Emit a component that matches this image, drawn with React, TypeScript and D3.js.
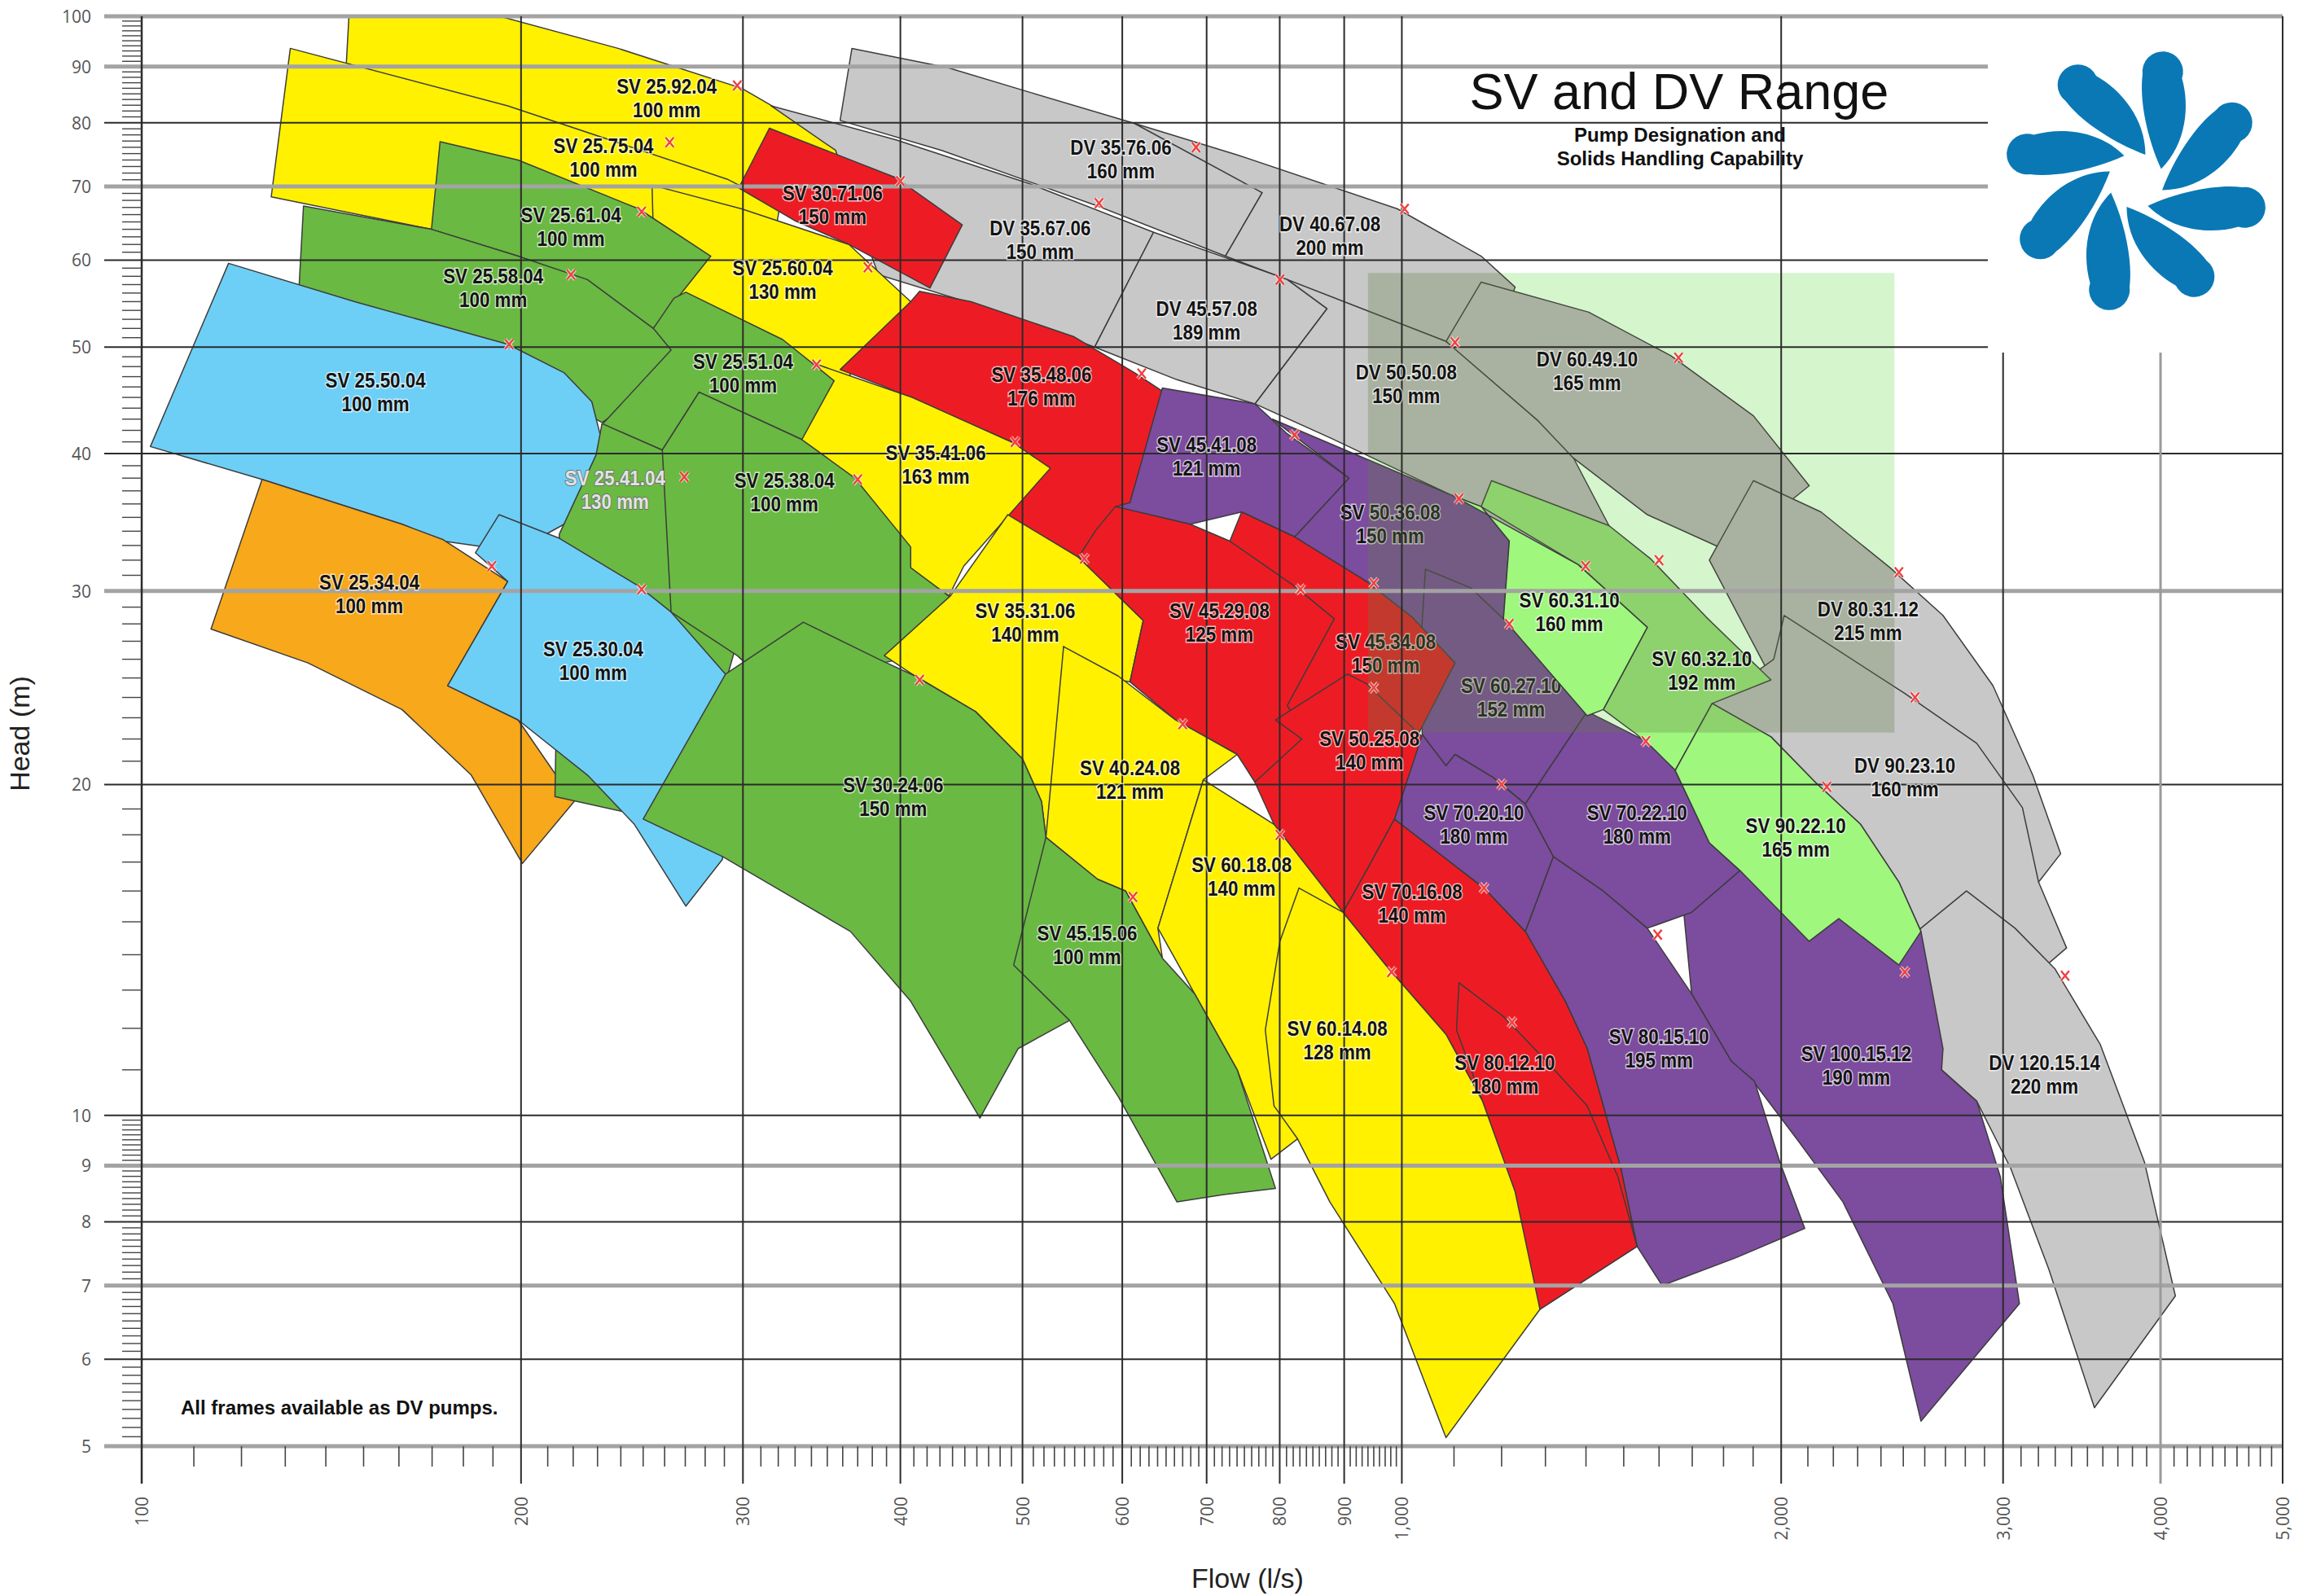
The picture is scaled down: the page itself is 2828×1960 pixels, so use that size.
import React from "react";
import * as d3 from "d3";

const W = 2828;
const H = 1960;
const X_LEFT = 174;
const X_RIGHT = 2803;
const Y_TOP = 20;
const Y_BOTTOM = 1776;

// ---- pump tiles (drawing order: back to front) ----
const pumpNames = [
  "SV 25.92.04", "DV 35.76.06", "DV 40.67.08", "DV 35.67.06", "SV 25.75.04", "SV 30.71.06",
  "DV 60.49.10", "DV 50.50.08", "DV 45.57.08", "DV 80.31.12", "DV 90.23.10", "DV 120.15.14",
  "SV 25.60.04", "SV 25.61.04", "SV 25.58.04", "SV 25.50.04", "SV 35.48.06", "SV 35.41.06",
  "SV 25.51.04", "SV 25.34.04", "SV 25.41.04", "SV 25.30.04", "SV 25.38.04", "SV 45.41.08",
  "SV 50.36.08", "SV 60.27.10", "SV 60.32.10", "SV 60.31.10", "SV 35.31.06", "SV 30.24.06",
  "SV 45.34.08", "SV 45.29.08", "SV 50.25.08", "SV 40.24.08", "SV 60.18.08", "SV 45.15.06",
  "SV 100.15.12", "SV 80.15.10", "SV 70.16.08", "SV 80.12.10", "SV 70.20.10", "SV 70.22.10",
  "SV 90.22.10", "SV 60.14.08",
];

const solidsSizes = [
  "100 mm", "160 mm", "200 mm", "150 mm", "100 mm", "150 mm",
  "165 mm", "150 mm", "189 mm", "215 mm", "160 mm", "220 mm",
  "130 mm", "100 mm", "100 mm", "100 mm", "176 mm", "163 mm",
  "100 mm", "100 mm", "130 mm", "100 mm", "100 mm", "121 mm",
  "150 mm", "152 mm", "192 mm", "160 mm", "140 mm", "150 mm",
  "150 mm", "125 mm", "140 mm", "121 mm", "140 mm", "100 mm",
  "190 mm", "195 mm", "140 mm", "180 mm", "180 mm", "180 mm",
  "165 mm", "128 mm",
];

const pumpFamilies = [
  "Y", "Gr", "Gr", "Gr", "Y", "R",
  "Gr", "Gr", "Gr", "Gr", "Gr", "Gr",
  "Y", "G", "G", "B", "R", "Y",
  "G", "O", "G", "B", "G", "P",
  "P", "P", "LG", "LG", "Y", "G",
  "R", "R", "R", "Y", "Y", "G",
  "P", "P", "R", "R", "P", "P",
  "LG", "Y",
];

// outlines as [flow l/s, head m]
const pumpOutlines: [number, number][][] = [
  [[146.5,106.7],[190.5,100.3],[238.8,93.5],[299.3,86.0],[364.1,75.5],[387.3,70.4],[357.3,63.2],[291.4,70.4],[195.2,82.1],[145.3,90.1]],
  [[366.1,93.5],[436,89.8],[508.1,85.2],[613.4,79.9],[679.3,76.0],[774.8,69.1],[724.4,60.5],[573.5,67.2],[431.4,75.5],[358.3,80.4]],
  [[613.4,79.9],[740.2,74.8],[992,66.8],[1156,60.5],[1230,56.7],[1165,48.6],[1084,50.6],[791.7,58.2],[724.4,60.5],[774.8,69.1]],
  [[315.8,82.9],[396.8,77.2],[506.8,70.4],[635.3,63.6],[570.4,50.0],[480.3,53.8],[384.2,58.2],[367.1,67.2],[355.4,75.5]],
  [[131.2,93.5],[195.2,82.9],[291.4,71.1],[320.9,67.2],[312.4,55.9],[245.4,55.9],[169.8,64.0],[126.7,68.5]],
  [[314.9,79.1],[396.8,71.3],[447.9,64.6],[422.2,56.6],[364.1,62.0],[329.6,65.2],[297.7,69.8]],
  [[1156,57.3],[1407,53.8],[1635,49.1],[1901,43.3],[2105,37.4],[1816,32.6],[1566,35.2],[1358,39.9],[1281,42.9],[1084,50.6]],
  [[811.1,57.6],[1084,50.6],[1281,42.9],[1369,39.6],[1460,34.4],[1263,31.6],[1217,33.3],[1093,36.7],[879.2,41.3],[764.5,44.4],[872.1,54.2]],
  [[635.3,63.6],[791.7,58.2],[811.1,57.6],[872.1,54.2],[764.5,44.4],[663.1,46.7],[570.4,50.0]],
  [[1901,37.8],[2151,35.4],[2440,31.5],[2688,28.5],[2945,24.6],[3167,20.4],[3333,17.3],[3201,16.3],[2541,20.8],[1968,24.9],[1754,32.0]],
  [[2011,28.5],[2507,24.2],[2859,21.8],[3108,19.05],[3201,16.3],[3369,14.2],[2829,11.96],[2582,14.7],[2480,16.3],[2312,18.4],[2128,20.1],[1963,22.1],[1763,23.7],[1973,26.0]],
  [[2806,16.0],[3066,14.8],[3297,13.6],[3583,11.6],[3884,9.07],[4110,6.85],[3545,5.42],[3262,7.24],[3042,8.95],[2859,10.3],[2681,11.0],[2600,11.5],[2400,13.7],[2582,14.8]],
  [[254.1,70.2],[299.3,66.8],[364.1,62.0],[407.6,55.0],[362.2,46.7],[322.6,49.7],[273.2,53.3],[255.5,55.0]],
  [[172.5,76.9],[198.9,74.0],[248,66.8],[282.9,60.5],[254.7,52.0],[225.8,57.3],[198.9,60.5],[169.8,64.0]],
  [[134.4,67.2],[169.8,64.0],[198.9,60.5],[225.8,57.6],[254.7,52.0],[271.8,55.9],[280.6,49.4],[231.9,42.7],[173,51.3],[133.3,56.6]],
  [[117.2,59.6],[147.6,55.0],[195.2,50.3],[216.3,47.4],[227.6,44.6],[231.9,41.0],[229.4,37.4],[223.4,35.2],[197.8,32.6],[173.5,33.3],[160.9,34.5],[124.6,37.9],[101.6,40.6]],
  [[414.3,56.2],[455.2,55.0],[549.4,51.1],[613.4,47.4],[645.6,45.6],[608.5,36.1],[572,30.6],[506.8,31.1],[461.3,35.7],[492,40.9],[387.3,46.1],[358.3,47.7],[407.6,55.0]],
  [[336.8,48.6],[408.7,45.0],[492,40.9],[526.1,38.8],[449.1,31.6],[437.2,29.7],[408.7,31.3],[347.8,37.4],[325.4,41.0]],
  [[270.3,56.1],[322.6,50.8],[354.4,46.6],[334.1,41.2],[276.9,45.5],[258.9,40.3],[231.9,42.5],[263.1,49.7],[254.7,52.0],[264.5,55.4]],
  [[124.6,37.9],[160.9,34.5],[173.5,33.4],[195.2,30.6],[174.9,24.6],[198.9,22.9],[220.4,19.3],[200.5,16.95],[182.6,20.4],[160.9,23.4],[135.5,25.8],[113.5,27.7]],
  [[231.9,42.6],[258.9,40.3],[273.2,41.0],[296.1,26.7],[273.2,19.3],[240.8,18.9],[212.8,19.5],[214.5,33.8],[229.4,39.9]],
  [[192.1,35.2],[214.5,33.5],[248,30.3],[263.1,28.7],[290.6,25.2],[289,17.1],[270.3,15.5],[246,18.4],[225.8,20.4],[198.9,22.9],[174.9,24.6],[195.2,30.6],[184,32.5]],
  [[276.9,45.5],[334.1,41.2],[368.1,38.0],[407.6,32.9],[407.6,31.5],[438.4,29.6],[393.7,25.9],[314.9,24.6],[296.9,26.2],[263.1,28.7],[258.9,40.3]],
  [[645.6,45.9],[764.5,44.4],[811.1,41.7],[908,38.0],[826.5,33.8],[822,33.6],[746.2,35.4],[679.3,34.5],[592.4,35.8],[608.5,36.1]],
  [[789.5,43.0],[1093,36.7],[1156,35.8],[1217,33.3],[1204,28.3],[1035,27.5],[965.6,28.8],[937.6,30.6],[822,33.6],[826.5,33.8],[908,38.0]],
  [[1044,31.4],[1134,30.2],[1204,28.3],[1298,25.9],[1403,23.3],[1253,19.2],[1181,20.3],[1102,21.3],[1084,20.8],[1038,22.2],[1035,26.7]],
  [[1178,37.8],[1460,34.4],[1575,32.1],[1744,28.4],[1963,24.9],[1763,23.7],[1648,20.6],[1537,22.2],[1445,23.4],[1566,27.8],[1380,31.7],[1156,35.8]],
  [[1099,36.6],[1380,31.7],[1566,27.8],[1445,23.4],[1403,23.1],[1204,28.3],[1217,33.3],[1156,35.8]],
  [[486.8,35.2],[553.8,32.2],[623.4,28.2],[608.5,24.8],[564.3,25.1],[539,26.7],[534.7,20.8],[521.9,17.9],[517.7,19.3],[500,21.1],[458.9,23.3],[411,25.1],[388.4,26.2],[438.4,29.7]],
  [[290.6,25.2],[335,28.1],[387.3,25.9],[411,25.1],[458.9,23.3],[500,21.1],[517.7,19.3],[521.9,17.9],[534.7,14.4],[544.9,12.2],[496,11.5],[462.6,9.94],[407.6,12.7],[365.1,14.7],[289,17.2],[250,18.6]],
  [[746.2,35.4],[822,33.6],[937.6,30.6],[1019,28.4],[1102,25.8],[1030,22.2],[905.5,25.2],[833.2,22.0],[758.3,25.9],[730.3,33.3]],
  [[592.4,35.8],[679.3,34.5],[730.3,33.3],[822,30.3],[883.9,28.3],[811.1,23.6],[844.7,21.8],[764.5,20.1],[740.2,21.3],[661.3,22.9],[608.5,24.8],[623.4,28.2],[553.8,32.2],[572,34.1]],
  [[905.5,25.2],[937.6,24.7],[1038,22.1],[986.7,18.6],[940.2,16.8],[898.2,15.3],[791.7,18.4],[764.5,20.1],[833.2,22.0],[793.8,22.9]],
  [[539,26.7],[595.6,25.1],[661.3,22.9],[740.2,21.3],[695.9,20.2],[640.4,14.8],[645.6,13.9],[603.6,16.0],[573.5,16.4],[521.9,17.9]],
  [[695.9,20.2],[791.7,18.4],[898.2,15.3],[940.2,13.95],[828.7,11.96],[826.5,9.52],[787.4,9.12],[740.2,11.0],[684.8,12.9],[640.4,14.8]],
  [[521.9,17.9],[573.5,16.4],[603.6,16.0],[645.6,13.9],[684.8,12.9],[740.2,11.0],[793.8,8.58],[722.5,8.47],[663.1,8.34],[595.6,10.4],[544.9,12.2],[492,13.7]],
  [[1648,18.4],[1855,16.7],[2222,15.8],[2582,14.7],[2688,11.5],[2681,11.0],[2859,10.3],[2985,8.79],[3091,6.74],[2582,5.27],[2453,6.74],[2239,8.34],[2066,9.46],[1905,10.7],[1826,11.2],[1698,12.9]],
  [[1319,17.2],[1445,16.0],[1566,14.8],[1698,12.9],[1826,11.2],[1905,10.74],[1995,9.07],[2088,7.89],[1841,7.42],[1609,7.0],[1537,7.6],[1492,8.95],[1403,11.5],[1348,12.7],[1253,14.7]],
  [[986.7,18.6],[1162,16.1],[1253,14.7],[1348,12.7],[1403,11.5],[1492,8.95],[1537,7.6],[1287,6.66],[1159,10.3],[1084,11.85],[971,13.7],[898.2,15.3],[940.2,16.8]],
  [[1110,13.2],[1204,12.3],[1298,11.25],[1403,10.2],[1484,8.79],[1537,7.6],[1287,6.66],[1159,10.3],[1105,11.96]],
  [[1038,22.2],[1084,20.8],[1102,21.3],[1181,20.3],[1253,19.2],[1319,17.2],[1253,14.7],[1162,16.1],[986.7,18.6]],
  [[1403,23.3],[1562,21.9],[1648,20.6],[1754,17.7],[1855,16.7],[1698,15.3],[1566,14.8],[1445,16.0],[1319,17.2],[1253,19.2]],
  [[1763,23.7],[1963,22.1],[2128,20.1],[2312,18.4],[2480,16.3],[2582,14.7],[2480,13.7],[2222,15.1],[2105,14.4],[1855,16.7],[1754,17.7],[1648,20.6]],
  [[828.7,16.1],[898.2,15.3],[971,13.7],[1084,11.85],[1159,10.3],[1230,8.52],[1287,6.66],[1084,5.09],[986.7,6.74],[876.8,8.34],[826.5,9.52],[791.7,10.2],[779.2,11.96],[800.3,14.4]],
];

// best efficiency points (red x)
const bepFlows = [296.9,686.6,1005,575,262.4,400,1658,1102,800.3,2480,2554,3360,377,249.3,219.1,195.7,621.7,493.3,343.2,189.6,269.5,249.3,370,822,1110,1217,1600,1399,559.8,414.3,950,831,950,670,800.3,611.8,2507,1596,1162,1223,1200,1562,2174,981.3];
const bepHeads = [86.5,76.0,66.8,67.6,76.8,70.8,48.9,50.5,57.6,31.2,24.0,13.4,59.1,66.4,58.2,50.3,47.3,41.0,48.2,31.6,38.1,30.1,37.9,41.6,36.4,28.0,32.0,31.6,32.1,24.9,30.5,30.1,24.5,22.7,18.0,15.8,13.5,14.6,16.1,12.15,20.0,21.9,19.9,13.5];

// label block centres
const labelFlows = [261,598.5,876.8,516.4,232.5,353.4,1403,1008,700,2344,2507,3236,322.6,219.1,190.1,153.3,517.7,426.7,300.1,151.6,237.5,228.2,323.6,700,979,1221,1730,1358,502.5,394.8,971,716.6,942.6,608.5,746.2,562.7,2294,1600,1019,1207,1141,1537,2054,888.7];
const labelHeads = [84.2,74.2,63.2,62.6,74.4,67.4,47.6,46.3,52.9,28.2,20.3,10.9,57.6,64.4,56.6,45.5,46.1,39.1,47.3,29.8,37.1,25.9,36.9,39.8,34.5,24.0,25.4,28.7,28.1,19.5,26.3,28.1,21.5,20.2,16.5,14.3,11.1,11.5,15.6,10.9,18.4,18.4,17.9,11.7];

const labelsUnderTint = ["SV 45.34.08", "SV 50.36.08", "SV 60.27.10"];
const tilesAboveTint = ["SV 60.31.10"];
const lightLabels = ["SV 25.41.04"];

const familyColors: Record<string, string> = {
  Y: "#fff100",
  G: "#6ab943",
  B: "#6dcff6",
  O: "#f7a81b",
  R: "#ed1c24",
  P: "#7c4c9e",
  Gr: "#c8c8c8",
  LG: "#9ff77e",
};

// shaded panel (flow range, head range)
const panelFlows = [940, 2460];
const panelHeads = [22.3, 58.4];

// axes
const flowMajor = [100, 200, 300, 400, 500, 600, 700, 800, 900, 1000, 2000, 3000, 4000, 5000];
const flowMajorLabels = ["100", "200", "300", "400", "500", "600", "700", "800", "900", "1,000", "2,000", "3,000", "4,000", "5,000"];
const headMajor = [100, 90, 80, 70, 60, 50, 40, 30, 20, 10, 9, 8, 7, 6, 5];
const headGrayLines = [100, 90, 70, 30, 9, 7, 5];
const headShortLines = [90, 80, 70, 60, 50];
const flowShortLines = [3000, 4000];

const LABEL_FONT = "'Liberation Sans', Arial, 'DejaVu Sans', sans-serif";
const AXIS_FONT = "'Liberation Sans', Arial, 'DejaVu Sans', sans-serif";
const TICK_FONT = "'Open Sans', 'DejaVu Sans', sans-serif";

const LOGO_CX = 2623;
const LOGO_CY = 222;
const BOX_LEFT = 2441;
const BOX_BOTTOM = 433;

function petalPath(cx: number, cy: number, ang: number): string {
  const c = Math.cos(ang), s = Math.sin(ang);
  const p = (px: number, py: number) => `${(cx + px * c - py * s).toFixed(1)},${(cy + px * s + py * c).toFixed(1)}`;
  return `M${p(22, 26)}C${p(60, 48)} ${p(106, 40)} ${p(136, 22)}A25 25 0 1 0 ${p(128, -26)}C${p(98, -22)} ${p(56, -2)} ${p(22, 26)}Z`;
}

export default function App() {
  const x = d3.scaleLog().domain([100, 5000]).range([X_LEFT, X_RIGHT]);
  const y = d3.scaleLog().domain([5, 100]).range([Y_BOTTOM, Y_TOP]);
  const poly = d3
    .line<[number, number]>()
    .x((d) => x(d[0]))
    .y((d) => y(d[1]))
    .curve(d3.curveLinearClosed);

  const flowMinor: number[] = [];
  for (let v = 110; v < 1000; v += 10) if (v % 100 !== 0) flowMinor.push(v);
  for (let v = 1100; v < 5000; v += 100) if (v % 1000 !== 0) flowMinor.push(v);
  const headMinor: number[] = [];
  for (let v = 11; v < 100; v += 1) if (v % 10 !== 0) headMinor.push(v);
  for (let i = 51; i < 100; i++) if (i % 10 !== 0) headMinor.push(i / 10);

  const renderTile = (i: number) => (
    <path
      key={`tile-${i}`}
      d={poly(pumpOutlines[i]) || ""}
      fill={familyColors[pumpFamilies[i]]}
      stroke="#3c3c3c"
      strokeWidth={1.5}
      strokeLinejoin="round"
    />
  );

  const renderLabel = (i: number, under: boolean) => {
    const name = pumpNames[i];
    const isUnder = labelsUnderTint.includes(name);
    if (isUnder !== under) return null;
    const light = lightLabels.includes(name);
    const cx = x(labelFlows[i]);
    const cy = y(labelHeads[i]);
    const common = {
      x: 0,
      y: 0,
      textAnchor: "middle" as const,
      dominantBaseline: "central" as const,
      fontFamily: LABEL_FONT,
      fontWeight: 700,
      fontSize: 26,
      fill: light ? "#e2e2e2" : "#141414",
      stroke: light ? "#6a6a6a" : "#ffffff",
      strokeWidth: light ? 2 : 3,
      strokeOpacity: light ? 0.9 : 0.7,
      paintOrder: "stroke" as const,
    };
    return (
      <g key={`lab-${i}`}>
        <text transform={`translate(${cx},${cy - 14.5}) scale(0.86,1)`} {...common}>{name}</text>
        <text transform={`translate(${cx},${cy + 14.5}) scale(0.86,1)`} {...common}>{solidsSizes[i]}</text>
      </g>
    );
  };

  const px0 = x(panelFlows[0]);
  const px1 = x(panelFlows[1]);
  const py0 = y(panelHeads[1]);
  const py1 = y(panelHeads[0]);
  const idx = d3.range(pumpNames.length);
  const belowIdx = idx.filter((i) => !tilesAboveTint.includes(pumpNames[i]));
  const aboveIdx = idx.filter((i) => tilesAboveTint.includes(pumpNames[i]));

  return (
    <svg
      width={W}
      height={H}
      viewBox={`0 0 ${W} ${H}`}
      style={{ position: "absolute", left: 0, top: 0, display: "block", background: "#fff" }}
    >
      <defs>
        <clipPath id="plotClip">
          <rect x={X_LEFT} y={Y_TOP} width={X_RIGHT - X_LEFT} height={Y_BOTTOM - Y_TOP} />
        </clipPath>
        <clipPath id="tileUnion">
          {belowIdx.map((i) => (
            <path key={`cu-${i}`} d={poly(pumpOutlines[i]) || ""} />
          ))}
        </clipPath>
      </defs>
      <rect x={0} y={0} width={W} height={H} fill="#ffffff" />

      {/* light green background panel */}
      <rect x={px0} y={py0} width={px1 - px0} height={py1 - py0} fill="#d5f5cd" />

      {/* tiles */}
      <g clipPath="url(#plotClip)">{belowIdx.map(renderTile)}</g>

      {/* labels beneath the tint */}
      {pumpNames.map((_, i) => renderLabel(i, true))}

      {/* tint over tiles inside the panel */}
      <g clipPath="url(#tileUnion)">
        <rect x={px0} y={py0} width={px1 - px0} height={py1 - py0} fill="rgb(100,125,70)" fillOpacity={0.3} />
      </g>

      {/* tiles drawn above the tint */}
      <g clipPath="url(#plotClip)">{aboveIdx.map(renderTile)}</g>

      {/* horizontal grid */}
      {headMajor.map((h) => {
        const gray = headGrayLines.includes(h);
        const xEnd = headShortLines.includes(h) ? BOX_LEFT : X_RIGHT;
        return (
          <line
            key={`hg-${h}`}
            x1={128}
            x2={xEnd}
            y1={y(h)}
            y2={y(h)}
            stroke={gray ? "#a3a3a3" : "#2b2b2b"}
            strokeWidth={gray ? 5 : 2}
          />
        );
      })}

      {/* vertical grid */}
      {flowMajor.map((f) => {
        const gray = f === 4000;
        const yStart = flowShortLines.includes(f) ? BOX_BOTTOM : Y_TOP;
        return (
          <line
            key={`vg-${f}`}
            x1={x(f)}
            x2={x(f)}
            y1={yStart}
            y2={Y_BOTTOM + 46}
            stroke={gray ? "#9a9a9a" : "#2b2b2b"}
            strokeWidth={gray ? 3 : 2}
          />
        );
      })}

      {/* left axis line */}
      <line x1={X_LEFT} x2={X_LEFT} y1={Y_TOP} y2={Y_BOTTOM + 46} stroke="#2b2b2b" strokeWidth={2.5} />

      {/* minor ticks */}
      {flowMinor.map((f) => (
        <line key={`fm-${f}`} x1={x(f)} x2={x(f)} y1={Y_BOTTOM} y2={Y_BOTTOM + 25} stroke="#444" strokeWidth={1.6} />
      ))}
      {headMinor.map((h) => (
        <line key={`hm-${h}`} x1={150} x2={X_LEFT} y1={y(h)} y2={y(h)} stroke="#444" strokeWidth={1.4} />
      ))}

      {/* tick labels */}
      {headMajor.map((h) => (
        <text
          key={`hl-${h}`}
          x={112}
          y={y(h)}
          textAnchor="end"
          dominantBaseline="central"
          fontFamily={TICK_FONT}
          fontSize={21}
          fill="#555"
        >
          {h}
        </text>
      ))}
      {flowMajor.map((f, i) => (
        <text
          key={`fl-${f}`}
          transform={`translate(${x(f)},${Y_BOTTOM + 62}) rotate(-90)`}
          textAnchor="end"
          dominantBaseline="central"
          fontFamily={TICK_FONT}
          fontSize={21}
          fill="#555"
        >
          {flowMajorLabels[i]}
        </text>
      ))}

      {/* axis titles */}
      <text x={1532} y={1950} textAnchor="middle" fontFamily={AXIS_FONT} fontSize={34} fill="#222">
        Flow (l/s)
      </text>
      <text
        transform={`translate(24,901) rotate(-90)`}
        textAnchor="middle"
        dominantBaseline="central"
        fontFamily={AXIS_FONT}
        fontSize={34}
        fill="#222"
      >
        Head (m)
      </text>

      {/* pump labels */}
      {pumpNames.map((_, i) => renderLabel(i, false))}

      {/* BEP markers */}
      {bepFlows.map((f, i) => {
        const px = x(f);
        const py = y(bepHeads[i]);
        const d = `M${px - 5},${py - 6}L${px + 5},${py + 6}M${px + 5},${py - 6}L${px - 5},${py + 6}`;
        return (
          <g key={`bep-${i}`}>
            <path d={d} stroke="#ffffff" strokeWidth={4.5} strokeOpacity={0.7} />
            <path d={d} stroke="#f0413f" strokeWidth={2.4} />
          </g>
        );
      })}

      {/* notes and title */}
      <text x={222} y={1737} fontFamily={LABEL_FONT} fontWeight={700} fontSize={24} fill="#111">
        All frames available as DV pumps.
      </text>
      <text x={2062} y={134} textAnchor="middle" fontFamily={AXIS_FONT} fontSize={63} fill="#111">
        SV and DV Range
      </text>
      <text x={2063} y={174} textAnchor="middle" fontFamily={LABEL_FONT} fontWeight={700} fontSize={24} fill="#111">
        Pump Designation and
      </text>
      <text x={2063} y={203} textAnchor="middle" fontFamily={LABEL_FONT} fontWeight={700} fontSize={24} fill="#111">
        Solids Handling Capability
      </text>

      {/* logo */}
      <g fill="#0a78b5">
        {d3.range(8).map((k) => (
          <path key={`petal-${k}`} d={petalPath(LOGO_CX, LOGO_CY, (k * Math.PI) / 4 - Math.PI / 2.4)} />
        ))}
      </g>
    </svg>
  );
}
